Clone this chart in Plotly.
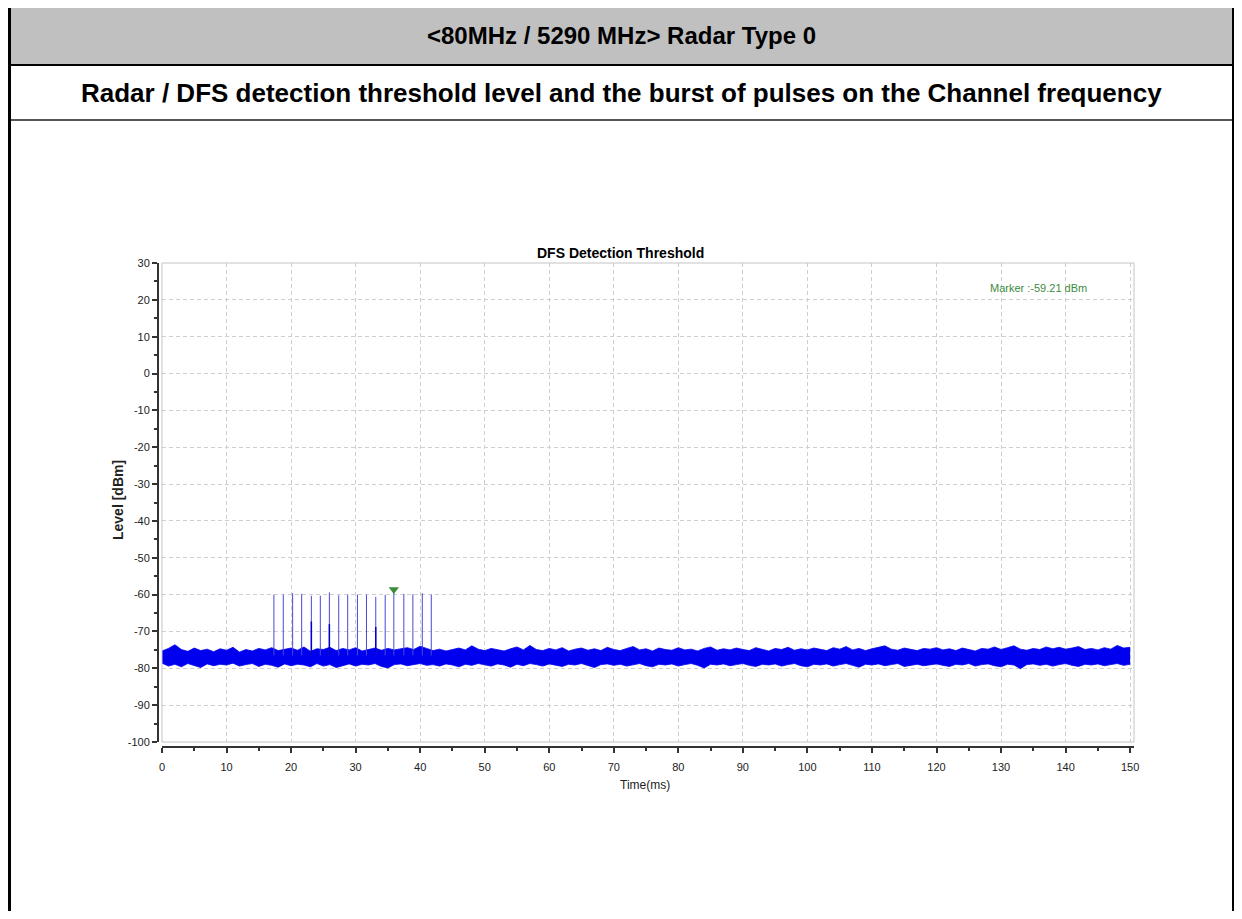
import plotly.graph_objects as go

# ---------------- data ----------------
noise_t = list(range(0, 151))  # ms
noise_hi = [
    -75.3, -74.6, -73.6, -74.9, -75.4, -74.5, -75.2, -74.8, -75.5, -74.7,
    -75.1, -74.3, -75.6, -74.9, -75.3, -74.6, -75.0, -74.4, -75.2, -74.8,
    -74.5, -75.1, -74.2, -75.4, -74.7, -74.9, -74.3, -75.2, -74.6, -75.0,
    -74.4, -75.3, -74.8, -74.5, -75.1, -74.6, -75.0, -74.7, -74.4, -74.9,
    -74.0, -74.6, -75.2, -74.8, -75.3, -74.9, -74.5, -75.0, -73.9, -74.8,
    -75.2, -74.6, -74.9, -75.3, -74.7, -74.2, -75.0, -73.8, -74.9, -75.2,
    -74.6, -75.0, -74.4, -75.3, -74.8, -74.5, -75.1, -74.7, -75.2, -74.3,
    -74.9, -75.2, -74.6, -74.1, -75.0, -74.7, -75.3, -74.5, -74.9, -75.1,
    -74.4, -75.0, -74.8, -75.3, -74.6, -74.2, -75.1, -74.7, -75.0, -74.5,
    -74.9, -75.2, -74.4, -74.8, -75.3, -74.6, -74.9, -74.3, -75.1, -74.7,
    -75.0, -74.5, -74.9, -75.2, -74.4, -74.8, -74.1, -75.0, -74.6, -75.2,
    -74.7, -74.3, -73.9, -74.8, -75.1, -74.5, -74.9, -75.2, -74.6, -74.8,
    -74.4, -75.0, -74.7, -75.2, -74.5, -74.9, -75.3, -74.6, -74.8, -74.2,
    -74.9, -74.4, -73.9, -74.8, -75.1, -74.6, -74.9, -74.2, -74.7, -74.3,
    -74.8, -74.5, -74.1, -74.9, -74.6, -75.0, -74.4, -74.8, -73.8, -74.5,
    -74.3,
]
noise_lo = [
    -78.6, -79.4, -78.9, -79.6, -78.7, -79.2, -79.8, -78.8, -79.3, -78.9,
    -79.1, -78.6, -79.4, -79.0, -78.7, -79.5, -78.9, -79.2, -79.7, -78.8,
    -79.3, -78.9, -79.1, -79.6, -78.7, -79.4, -79.0, -79.8, -79.2, -78.8,
    -79.4, -78.9, -79.1, -78.7, -79.5, -79.9, -79.0, -78.8, -79.3, -78.9,
    -78.7, -79.2, -79.0, -79.4, -78.8, -79.1, -79.6, -78.9, -79.2, -78.7,
    -79.0, -79.4, -78.8, -79.1, -79.7, -78.9, -79.3, -78.7, -79.0, -79.4,
    -78.8, -79.2, -79.5, -78.9, -79.1, -78.7, -79.3, -79.8, -79.0, -78.8,
    -79.2, -78.9, -79.4, -79.0, -78.7, -79.3, -79.6, -78.9, -79.1, -78.8,
    -79.4, -79.0, -78.7, -79.2, -79.9, -78.9, -79.1, -78.8, -79.3, -79.0,
    -78.7, -79.2, -79.5, -78.9, -79.1, -78.8, -79.4, -79.0, -78.7, -79.3,
    -79.6, -78.9, -79.1, -78.8, -79.4, -79.0, -78.7, -79.2, -79.7, -78.9,
    -79.1, -78.8, -79.3, -79.0, -78.7, -79.5, -79.1, -78.9, -79.3, -79.0,
    -78.8, -79.2, -79.5, -78.9, -79.1, -78.7, -79.4, -79.0, -78.8, -79.3,
    -79.6, -78.9, -79.1, -80.1, -79.0, -78.8, -79.2, -78.9, -79.4, -79.0,
    -78.7, -79.2, -79.5, -78.9, -79.1, -78.8, -79.3, -79.0, -78.7, -79.2,
    -78.9,
]
pulse_times = [17.34, 18.79, 20.24, 21.64, 23.14, 24.53, 25.93, 27.38, 28.77,
               30.28, 31.68, 33.12, 34.58, 35.92, 37.47, 38.87, 40.33, 41.72]
pulse_peaks = [-60.0, -60.0, -59.6, -59.8, -60.3, -60.3, -59.4, -60.2, -60.0,
               -60.0, -60.0, -60.6, -60.1, -59.21, -59.8, -59.9, -59.6, -60.0]
pulse_base = -76.5
echo_times = [23.14, 25.93, 33.12]
echo_peaks = [-67.3, -68.0, -68.8]
marker_time = 35.92
marker_level = -59.21

x_tick_vals = [0, 10, 20, 30, 40, 50, 60, 70, 80, 90, 100, 110, 120, 130, 140, 150]
x_tick_text = ["0", "10", "20", "30", "40", "50", "60", "70", "80", "90",
               "100", "110", "120", "130", "140", "150"]
y_tick_vals = [30, 20, 10, 0, -10, -20, -30, -40, -50, -60, -70, -80, -90, -100]
y_tick_text = ["30", "20", "10", "0", "-10", "-20", "-30", "-40", "-50",
               "-60", "-70", "-80", "-90", "-100"]

header_title = "&lt;80MHz / 5290 MHz&gt; Radar Type 0"
header_sub = "Radar / DFS detection threshold level and the burst of pulses on the Channel frequency"
chart_title = "DFS Detection Threshold"
x_title = "Time(ms)"
y_title = "Level [dBm]"
marker_text = "Marker :-59.21 dBm"

# ---------------- layout helpers (reference pixel -> paper) ----------------
OFF = 8                      # browser body margin
W, H = 1242 - 2 * OFF, 919 - 2 * OFF
L, T = 150, 255
R = W - L - 976
B = H - (747 - OFF)
PW, PH = W - L - R, H - T - B
X_EDGE = OFF + W             # last visible reference pixel column


def px(x):
    return (x - OFF - L) / PW


def py(y):
    return (H - B - (y - OFF)) / PH


SANS = "Liberation Sans, Arial, sans-serif"
BLUE = "#0000ee"

fig = go.Figure()

# noise floor band
fig.add_trace(go.Scatter(x=noise_t, y=noise_lo, mode="lines",
                         line=dict(color=BLUE, width=0.8), hoverinfo="skip",
                         showlegend=False))
fig.add_trace(go.Scatter(x=noise_t, y=noise_hi, mode="lines", fill="tonexty",
                         fillcolor=BLUE,
                         line=dict(color=BLUE, width=0.8), hoverinfo="skip",
                         showlegend=False))

# pulses
px_list, py_list = [], []
for t, p in zip(pulse_times, pulse_peaks):
    px_list += [t, t, None]
    py_list += [pulse_base, p, None]
fig.add_trace(go.Scatter(x=px_list, y=py_list, mode="lines",
                         line=dict(color="#4848dc", width=1), showlegend=False))

ex_list, ey_list = [], []
for t, p in zip(echo_times, echo_peaks):
    ex_list += [t, t, None]
    ey_list += [pulse_base, p, None]
fig.add_trace(go.Scatter(x=ex_list, y=ey_list, mode="lines",
                         line=dict(color="#0000cc", width=1.5), showlegend=False))

# marker
fig.add_trace(go.Scatter(x=[marker_time], y=[marker_level + 0.6], mode="markers",
                         marker=dict(symbol="triangle-down", size=9, color="#3c8c3c"),
                         cliponaxis=False, showlegend=False))

axis_common = dict(
    showline=True, linecolor="#333333", linewidth=2,
    ticks="outside", ticklen=5, tickwidth=1.5, tickcolor="#333333",
    showgrid=True, gridcolor="#cfcfcf", griddash="4px,3px", gridwidth=1,
    zeroline=False, tickfont=dict(family=SANS, size=11, color="#222222"),
    anchor="free", position=0, tickmode="array",
)

fig.update_layout(
    width=W, height=H,
    margin=dict(l=L, r=R, t=T, b=B),
    paper_bgcolor="white", plot_bgcolor="white",
    showlegend=False,
    xaxis=dict(range=[0, 150.6], tickvals=x_tick_vals, ticktext=x_tick_text,
               domain=[4 / PW, 1], ticklabelstandoff=5,
               minor=dict(ticks="outside", ticklen=3, dtick=5, tick0=0,
                          tickcolor="#333333", showgrid=False),
               **axis_common),
    yaxis=dict(range=[-100, 30], tickvals=y_tick_vals, ticktext=y_tick_text,
               domain=[5 / PH, 1],
               minor=dict(ticks="outside", ticklen=3, dtick=5, tick0=0,
                          tickcolor="#333333", showgrid=False),
               **axis_common),
)

shapes = [
    # plot frame
    dict(type="rect", xref="x domain", yref="y domain", x0=0, x1=1, y0=0, y1=1,
         line=dict(color="#c4c4c4", width=1), layer="above"),
    # header band
    dict(type="rect", xref="paper", yref="paper", x0=px(11), x1=px(X_EDGE - 2), y0=py(64), y1=py(6),
         fillcolor="#c0c0c0", line=dict(width=0), layer="below"),
    dict(type="line", xref="paper", yref="paper", x0=px(9), x1=px(X_EDGE), y0=py(65), y1=py(65),
         line=dict(color="#000000", width=2)),
    dict(type="line", xref="paper", yref="paper", x0=px(11), x1=px(X_EDGE - 2), y0=py(120), y1=py(120),
         line=dict(color="#555555", width=2)),
    dict(type="line", xref="paper", yref="paper", x0=px(9), x1=px(9), y0=py(0), y1=py(925),
         line=dict(color="#000000", width=4)),
    dict(type="line", xref="paper", yref="paper", x0=px(X_EDGE - 1), x1=px(X_EDGE - 1),
         y0=py(0), y1=py(925), line=dict(color="#000000", width=2)),
]
fig.update_layout(shapes=shapes)

annotations = [
    dict(text="<b>" + header_title + "</b>", xref="paper", yref="paper", x=px(621), y=py(35),
         showarrow=False, font=dict(family=SANS, size=24, color="#000000"),
         xanchor="center", yanchor="middle"),
    dict(text="<b>" + header_sub + "</b>", xref="paper", yref="paper", x=px(621), y=py(93),
         showarrow=False, font=dict(family=SANS, size=26, color="#000000"),
         xanchor="center", yanchor="middle"),
    dict(text="<b>" + chart_title + "</b>", xref="paper", yref="paper", x=px(620), y=py(253),
         showarrow=False, font=dict(family=SANS, size=14, color="#000000"),
         xanchor="center", yanchor="middle"),
    dict(text=x_title, xref="paper", yref="paper", x=px(645), y=py(785),
         showarrow=False, font=dict(family=SANS, size=12, color="#222222"),
         xanchor="center", yanchor="middle"),
    dict(text="<b>" + y_title + "</b>", xref="paper", yref="paper", x=px(118), y=py(500),
         showarrow=False, textangle=-90, font=dict(family=SANS, size=14, color="#222222"),
         xanchor="center", yanchor="middle"),
    dict(text=marker_text, xref="paper", yref="paper", x=px(1038), y=py(288),
         showarrow=False, font=dict(family=SANS, size=11, color="#3c8c3c"),
         xanchor="center", yanchor="middle"),
]
fig.update_layout(annotations=annotations)

fig.write_html("out.html")
